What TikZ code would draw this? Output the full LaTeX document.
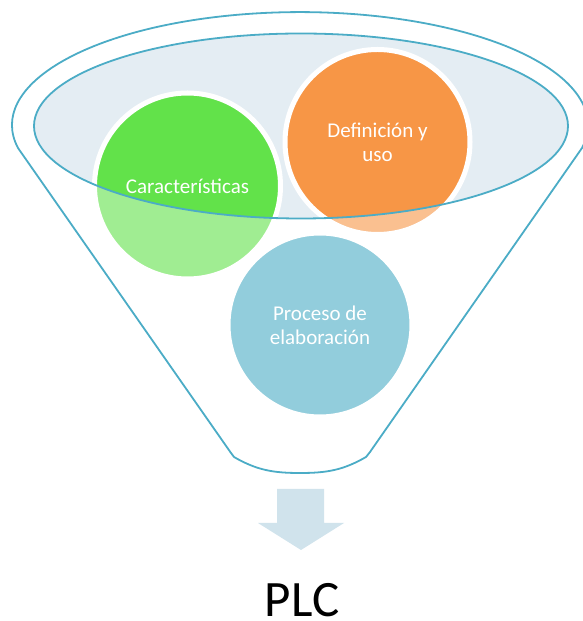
\documentclass[tikz,border=0pt]{standalone}
\usepackage{fontspec}
\setmainfont{Carlito}
\definecolor{teal}{HTML}{4BACC6}
\definecolor{ellfill}{HTML}{E4EDF3}
\definecolor{cgreen}{HTML}{62E24A}
\definecolor{corange}{HTML}{F79646}
\definecolor{cblue}{HTML}{92CDDC}
\definecolor{arrowc}{HTML}{D0E3EC}
\tikzset{
  ball/.style={circle, draw=white, line width=5pt, inner sep=0pt, minimum size=#1},
  balltext/.style={text=white, align=center, font=\fontsize{21}{24}\selectfont, inner sep=0pt},
  funnelline/.style={draw=teal, line width=1.8pt, line join=round},
}
\begin{document}
\begin{tikzpicture}[x=1pt,y=1pt]
\useasboundingbox (0,0) rectangle (582,621);
% inner ellipse fill
\fill[ellfill] (301,495) ellipse[x radius=267, y radius=92.5];
% circles
\node[ball=186pt, fill=cgreen] (g) at (187.5,435) {};
\node[ball=185pt, fill=corange] (o) at (377.5,479) {};
% lighten parts outside the inner ellipse
\fill[white, opacity=0.4, even odd rule] (0,0) rectangle (582,621) (301,495) ellipse[x radius=267, y radius=92.5];
\node[ball=184pt, fill=cblue] (b) at (320,296) {};
% inner ellipse stroke
\draw[funnelline] (301,495) ellipse[x radius=267, y radius=92.5];
% funnel outline
\draw[funnelline] (18,473) arc[start angle=191.7, end angle=-11.7, x radius=288, y radius=113]
  -- (370,169) -- (366,164) to[out=-150,in=0] (300,148) to[out=180,in=-30] (234,164) -- (231,168) -- cycle;
% texts
\node[balltext] (gt) at (g.center) {Características};
\node[balltext] (ot) at (o.center) {Definición y\\uso};
\node[balltext] (bt) at (b.center) {Proceso de\\elaboración};
% arrow
\fill[arrowc] (277,132) -- (324,132) -- (324,98) -- (344,98) -- (301,71) -- (258,98) -- (277,98) -- cycle;
% PLC
\node[anchor=base, inner sep=0pt, font=\fontsize{51}{60}\selectfont] (plc) at (302,5) {PLC};
\end{tikzpicture}
\end{document}
